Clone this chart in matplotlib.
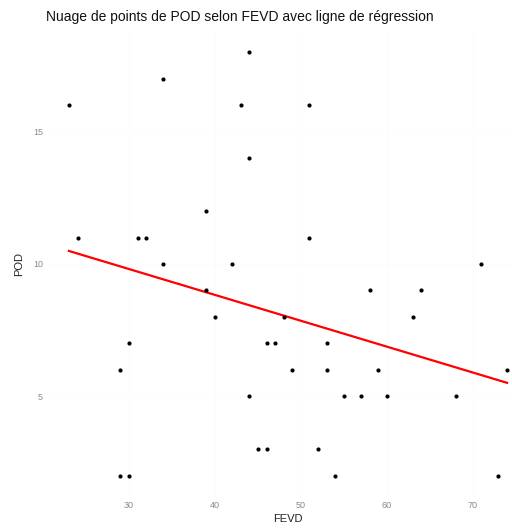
import numpy as np
import matplotlib
matplotlib.use("Agg")
import matplotlib.pyplot as plt

# ---------------------------------------------------------------------------
# Data
# ---------------------------------------------------------------------------
fevd = [23, 24, 34, 44, 43, 51, 44, 39, 31, 32, 51,
        34, 42, 71, 39, 58, 64, 40, 48, 63,
        30, 46, 47, 53, 29, 49, 53, 59, 74,
        44, 55, 57, 60, 68, 45, 46, 52, 29, 30, 54, 73]
pod = [16, 11, 17, 18, 16, 16, 14, 12, 11, 11, 11,
       10, 10, 10, 9, 9, 9, 8, 8, 8,
       7, 7, 7, 7, 6, 6, 6, 6, 6,
       5, 5, 5, 5, 5, 3, 3, 3, 2, 2, 2, 2]

X_TICKS = [30, 40, 50, 60, 70]
Y_TICKS = [5, 10, 15]

TITLE = "Nuage de points de POD selon FEVD avec ligne de régression"

plt.rcParams["font.family"] = ["Liberation Sans", "DejaVu Sans"]

fig = plt.figure(figsize=(5.12, 5.31), dpi=100)
ax = fig.add_axes([47 / 512, 34 / 531, 482 / 512, 466 / 531])

# regression line (lm fit like geom_smooth(method="lm"))
x = np.array(fevd, dtype=float)
y = np.array(pod, dtype=float)
slope, intercept = np.polyfit(x, y, 1)
xs = np.array([x.min(), x.max()])
ax.plot(xs, intercept + slope * xs, color="red", linewidth=1.6, zorder=2)

ax.scatter(fevd, pod, s=9, color="black", zorder=3, linewidths=0)

# ggplot-style 5% expansion
xr = x.max() - x.min()
yr = y.max() - y.min()
ax.set_xlim(x.min() - 0.05 * xr, x.max() + 0.05 * xr)
ax.set_ylim(y.min() - 0.05 * yr, y.max() + 0.05 * yr)

ax.set_xticks(X_TICKS)
ax.set_yticks(Y_TICKS)
ax.tick_params(length=0, labelsize=6.5, labelcolor="#8a8a8a", pad=3)
ax.grid(True, color="#fbfbfb", linewidth=0.5)
for sp in ax.spines.values():
    sp.set_visible(False)

ax.set_xlabel("FEVD", fontsize=8, color="#222222", labelpad=3)
ax.set_ylabel("POD", fontsize=8, color="#222222", labelpad=6)
fig.text(46 / 512, 1 - 17 / 531, TITLE, fontsize=10, color="#111111",
         ha="left", va="center")

fig.savefig("out.png", dpi=100)
